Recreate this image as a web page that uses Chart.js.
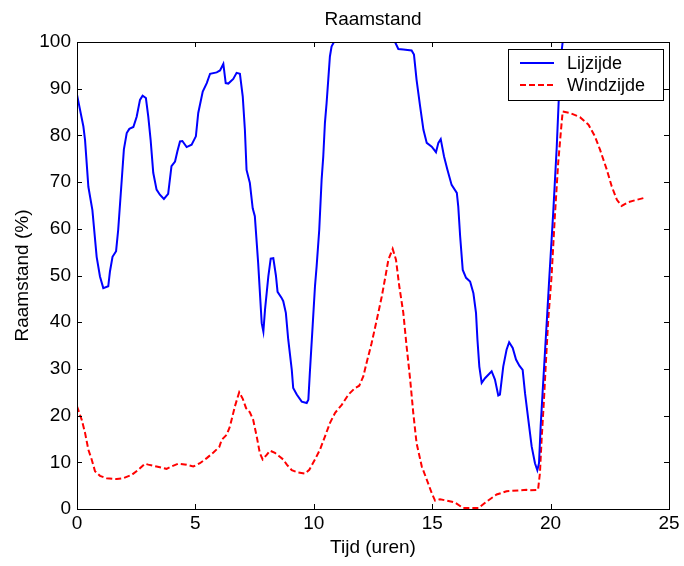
<!DOCTYPE html>
<html>
<head>
<meta charset="utf-8">
<script src="https://cdn.jsdelivr.net/npm/chart.js@4/dist/chart.umd.min.js"></script>
<style>
  html, body { margin: 0; padding: 0; background: #fff; }
  #wrap { width: 684px; height: 566px; }
</style>
</head>
<body>
<div id="wrap"><canvas id="raamChart"></canvas></div>
<script>
// Tijd (uren) en raamstand (%)
const tijdLij = [0, 0.27, 0.34, 0.48, 0.65, 0.83, 0.97, 1.11, 1.32, 1.39, 1.5, 1.65, 1.74, 1.89, 1.98, 2.1, 2.21, 2.38, 2.52, 2.66, 2.77, 2.91, 3.01, 3.11, 3.22, 3.36, 3.5, 3.67, 3.85, 3.99, 4.14, 4.24, 4.35, 4.45, 4.63, 4.84, 5.02, 5.12, 5.31, 5.48, 5.62, 5.9, 6.04, 6.18, 6.28, 6.39, 6.6, 6.74, 6.88, 7.0, 7.09, 7.16, 7.3, 7.42, 7.51, 7.65, 7.8, 7.87, 7.94, 8.08, 8.18, 8.29, 8.4, 8.47, 8.64, 8.71, 8.82, 8.92, 9.07, 9.13, 9.28, 9.49, 9.7, 9.77, 9.84, 9.95, 10.05, 10.12, 10.23, 10.33, 10.4, 10.47, 10.54, 10.61, 10.68, 10.75, 10.85, 13.43, 13.57, 13.78, 14.13, 14.23, 14.34, 14.49, 14.63, 14.77, 14.98, 15.16, 15.26, 15.36, 15.5, 15.64, 15.82, 16.04, 16.1, 16.18, 16.29, 16.43, 16.6, 16.74, 16.85, 16.91, 16.99, 17.09, 17.23, 17.51, 17.65, 17.79, 17.86, 18, 18.14, 18.25, 18.4, 18.54, 18.68, 18.82, 18.92, 19.06, 19.2, 19.34, 19.44, 19.51, 19.58, 19.66, 19.76, 19.86, 19.94, 20.11, 20.26, 20.35, 20.44, 20.51, 23.99];
const lijzijde = [88.7, 81.9, 79, 69, 64, 54, 49.8, 47.3, 47.7, 50.8, 54, 55.2, 59.8, 70.5, 77, 80.5, 81.4, 81.8, 84, 87.6, 88.5, 88, 84, 79, 72, 68.4, 67.3, 66.4, 67.5, 73.4, 74.4, 76.6, 78.7, 78.8, 77.5, 78, 79.8, 84.8, 89.4, 91.2, 93.2, 93.5, 93.9, 95.3, 91.2, 91.1, 92.1, 93.4, 93.2, 88.3, 81.2, 72.6, 69.8, 64.4, 62.7, 52.7, 39.8, 38, 42.7, 49.8, 53.6, 53.7, 50, 46.5, 45.2, 44.5, 42, 36.3, 29.8, 25.9, 24.5, 23, 22.7, 23.4, 29.8, 39.1, 47.7, 52, 59.8, 70.5, 75.5, 82.7, 86.9, 91.9, 96.9, 99, 100, 100, 98.5, 98.4, 98.2, 97.3, 91.9, 86.2, 81.2, 78.4, 77.6, 76.4, 78.4, 79.2, 75.5, 72.7, 69.4, 67.7, 64.8, 58.4, 51.2, 49.5, 48.7, 46.2, 42, 36.3, 30.5, 27, 28, 29.5, 27.7, 24.3, 24.5, 30.5, 34.1, 35.7, 34.5, 32, 30.7, 29.8, 24.8, 19.1, 13.4, 9.8, 8.3, 9.8, 17.7, 24.8, 33.4, 42, 49.1, 63.4, 77.6, 88.3, 96.9, 100, 100];

const tijdWind = [0, 0.2, 0.34, 0.48, 0.62, 0.76, 0.97, 1.25, 1.68, 1.95, 2.31, 2.59, 2.87, 3.01, 3.36, 3.78, 3.99, 4.28, 4.63, 4.91, 5.19, 5.48, 5.76, 6.01, 6.11, 6.32, 6.46, 6.67, 6.85, 7, 7.14, 7.3, 7.44, 7.59, 7.72, 7.84, 8.01, 8.15, 8.36, 8.54, 8.71, 8.86, 9.07, 9.35, 9.63, 9.81, 10.05, 10.26, 10.47, 10.68, 10.9, 11.18, 11.46, 11.74, 11.92, 12.09, 12.23, 12.44, 12.66, 12.87, 13.05, 13.15, 13.33, 13.47, 13.61, 13.78, 13.92, 14.07, 14.2, 14.34, 14.56, 14.77, 14.98, 15.12, 15.33, 15.61, 15.96, 16.31, 16.74, 16.95, 17.3, 17.72, 18.14, 18.99, 19.12, 19.47, 19.55, 19.62, 19.72, 19.8, 19.9, 20.04, 20.18, 20.32, 20.44, 20.51, 20.82, 21.24, 21.6, 21.87, 22.09, 22.37, 22.58, 22.8, 23.0, 23.28, 23.63, 23.94];
const windzijde = [22, 19.1, 16.3, 12.7, 10.6, 8.1, 7.1, 6.6, 6.4, 6.6, 7.3, 8.4, 9.7, 9.5, 9.1, 8.6, 9.1, 9.7, 9.5, 9.1, 9.8, 10.9, 12.1, 13.3, 14.8, 15.9, 17.7, 22, 25, 23.6, 21.6, 20.7, 19.1, 15.5, 12, 10.6, 11.6, 12.5, 12, 11.3, 10.6, 9.5, 8.3, 7.8, 7.6, 8.4, 10.6, 12.7, 15.5, 18.4, 20.6, 22.3, 24.5, 25.9, 26.4, 28.4, 31.3, 35.5, 40.5, 45.5, 50.5, 53.4, 55.7, 53.4, 47.7, 42, 34.8, 27.7, 20.6, 14.1, 9.1, 6.3, 3.4, 1.8, 2.1, 1.8, 1.4, 0.2, 0.2, 0.2, 1.6, 3.1, 3.8, 4.1, 4, 4.1, 7.7, 14.8, 23.4, 31.3, 40.5, 49.8, 62.7, 74.1, 81.2, 85.1, 84.8, 83.9, 82.3, 79.8, 76.9, 72.7, 69.1, 66.2, 64.9, 65.7, 66.2, 66.6];

const xTicks = [0, 5, 10, 15, 20, 25];
const yTicks = [0, 10, 20, 30, 40, 50, 60, 70, 80, 90, 100];
const seriesNames = ['Lijzijde', 'Windzijde'];

const FONT = "'Liberation Sans', Arial, sans-serif";
const FS = 19;
const toPoints = (xs, ys) => xs.map((x, i) => ({ x: x, y: ys[i] }));

// Matlab-achtige kader met tickjes naar binnen + legenda rechtsboven
const boxPlugin = {
    id: 'matlabBox',
    afterDraw(chart) {
        const { ctx, chartArea: a, scales } = chart;
        ctx.save();
        ctx.strokeStyle = '#000';
        ctx.lineWidth = 1;
        ctx.strokeRect(a.left + 0.5, a.top + 0.5, a.right - a.left, a.bottom - a.top);
        ctx.beginPath();
        xTicks.forEach(t => {
            const px = Math.round(scales.x.getPixelForValue(t)) + 0.5;
            ctx.moveTo(px, a.bottom); ctx.lineTo(px, a.bottom - 5);
            ctx.moveTo(px, a.top); ctx.lineTo(px, a.top + 5);
        });
        yTicks.forEach(t => {
            const py = Math.round(scales.y.getPixelForValue(t)) + 0.5;
            ctx.moveTo(a.left, py); ctx.lineTo(a.left + 5, py);
            ctx.moveTo(a.right, py); ctx.lineTo(a.right - 5, py);
        });
        ctx.stroke();

        // legenda
        const lx = 508, ly = 49, lw = 155, lh = 51;
        ctx.fillStyle = '#fff';
        ctx.fillRect(lx, ly, lw, lh);
        ctx.strokeRect(lx + 0.5, ly + 0.5, lw, lh);
        chart.data.datasets.forEach((ds, i) => {
            const y = ly + 14 + i * 22;
            ctx.strokeStyle = ds.borderColor;
            ctx.lineWidth = 2;
            ctx.setLineDash(ds.borderDash || []);
            ctx.beginPath();
            ctx.moveTo(lx + 12, y); ctx.lineTo(lx + 46, y);
            ctx.stroke();
            ctx.setLineDash([]);
            ctx.fillStyle = '#000';
            ctx.font = '18px ' + FONT;
            ctx.textBaseline = 'middle';
            ctx.fillText(ds.label, lx + 59, y + 1);
        });
        ctx.restore();
    }
};

new Chart(document.getElementById('raamChart'), {
    type: 'line',
    data: {
        datasets: [{
            label: seriesNames[0],
            data: toPoints(tijdLij, lijzijde),
            borderColor: '#0000ff',
            borderWidth: 2,
            pointRadius: 0,
            fill: false
        }, {
            label: seriesNames[1],
            data: toPoints(tijdWind, windzijde),
            borderColor: '#ff0000',
            borderWidth: 2,
            borderDash: [6, 3],
            pointRadius: 0,
            fill: false
        }]
    },
    options: {
        responsive: true,
        maintainAspectRatio: false,
        animation: false,
        layout: { padding: { left: 0, right: 15, top: 0, bottom: 0 } },
        plugins: {
            legend: { display: false },
            tooltip: { enabled: false },
            title: {
                display: true,
                fullSize: false,
                text: 'Raamstand',
                color: '#000',
                font: { family: FONT, size: FS, weight: 'normal' },
                padding: { top: 8.6, bottom: 10.6 }
            }
        },
        scales: {
            x: {
                type: 'linear',
                min: 0,
                max: 25,
                afterFit: s => { s.height = 57; },
                afterBuildTicks: s => { s.ticks = xTicks.map(v => ({ value: v })); },
                grid: { display: false, drawTicks: false },
                border: { display: false },
                ticks: { color: '#000', padding: 3, maxRotation: 0, font: { family: FONT, size: FS } },
                title: {
                    display: true,
                    text: 'Tijd (uren)',
                    color: '#000',
                    font: { family: FONT, size: FS },
                    padding: { top: 0, bottom: 6.6 }
                }
            },
            y: {
                min: 0,
                max: 100,
                afterFit: s => { s.width = 77; },
                afterBuildTicks: s => { s.ticks = yTicks.map(v => ({ value: v })); },
                grid: { display: false, drawTicks: false },
                border: { display: false },
                ticks: { color: '#000', padding: 6, font: { family: FONT, size: FS } },
                title: {
                    display: true,
                    text: 'Raamstand (%)',
                    color: '#000',
                    font: { family: FONT, size: FS },
                    padding: { top: 11.6, bottom: 0 }
                }
            }
        }
    },
    plugins: [boxPlugin]
});
</script>
</body>
</html>
